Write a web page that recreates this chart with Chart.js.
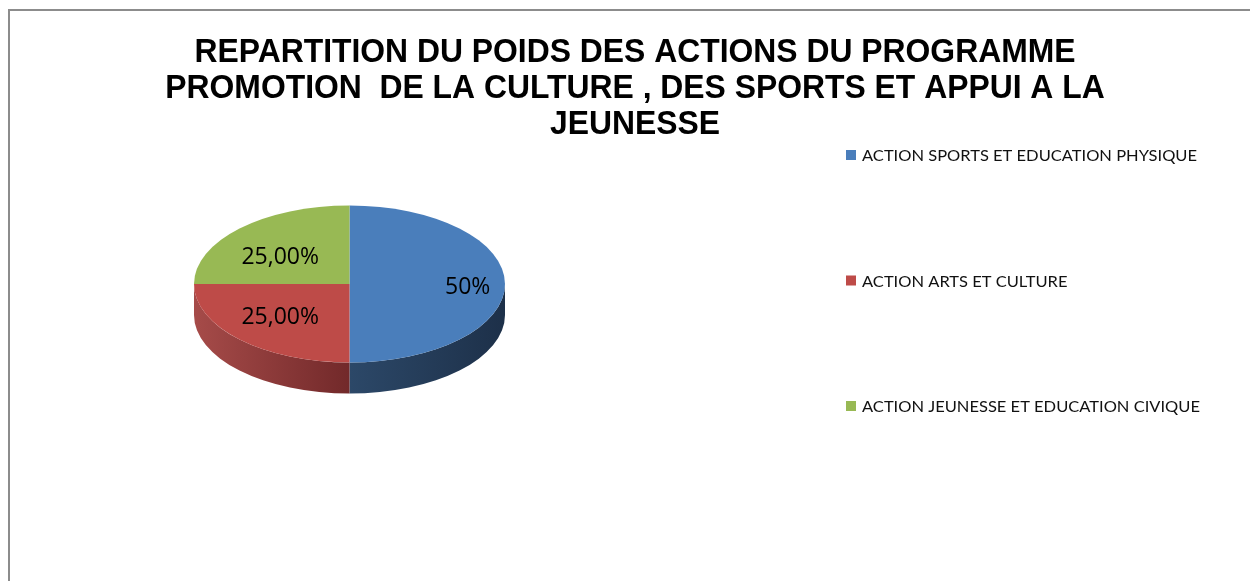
<!DOCTYPE html>
<html>
<head>
<meta charset="utf-8">
<script src="https://cdn.jsdelivr.net/npm/chart.js@4"></script>
<style>
  body { margin: 0; background: #fff; }
  canvas { display: block; }
</style>
</head>
<body>
<canvas id="pie" width="1250" height="581"></canvas>
<script>
const titleLines = [
  "REPARTITION DU POIDS DES ACTIONS DU PROGRAMME",
  "PROMOTION  DE LA CULTURE , DES SPORTS ET APPUI A LA",
  "JEUNESSE"
];
const categories = [
  "ACTION SPORTS ET EDUCATION PHYSIQUE",
  "ACTION ARTS ET CULTURE",
  "ACTION JEUNESSE ET EDUCATION CIVIQUE"
];
const weights = [50, 25, 25];
const valueLabels = ["50%", "25,00%", "25,00%"];

const topColors = ["#4a7ebb", "#be4b48", "#98b954"];
const sideLight = ["#2c4868", "#a64b49", "#7a9444"];
const sideDark = ["#1d3049", "#72292a", "#5a7030"];

// vertical squash of the pie (ellipse height / width) and thickness of the side
const squash = 0.505;
const depth = 31;

// white page with the grey frame of the chart area
const frame = {
  id: "frame",
  beforeDraw(chart) {
    const ctx = chart.ctx;
    ctx.save();
    ctx.fillStyle = "#fff";
    ctx.fillRect(0, 0, chart.width, chart.height);
    ctx.strokeStyle = "#8c8c8c";
    ctx.lineWidth = 2;
    ctx.beginPath();
    ctx.moveTo(9, chart.height);
    ctx.lineTo(9, 10);
    ctx.lineTo(chart.width, 10);
    ctx.stroke();
    ctx.restore();
  }
};

// title lines, squeezed a bit like the original
const titleBlock = {
  id: "titleBlock",
  afterDraw(chart) {
    const ctx = chart.ctx;
    ctx.save();
    ctx.font = "bold 33px 'Liberation Sans', Arial, sans-serif";
    ctx.fillStyle = "#000";
    ctx.textAlign = "center";
    ctx.textBaseline = "alphabetic";
    const sx = 881 / ctx.measureText(titleLines[0]).width;
    titleLines.forEach((line, i) => {
      ctx.save();
      ctx.translate(635, 62 + i * 36);
      ctx.scale(sx, 1);
      ctx.fillText(line, 0, 0);
      ctx.restore();
    });
    ctx.restore();
  }
};

// legend on the right, items spread out
const sideLegend = {
  id: "sideLegend",
  afterDraw(chart) {
    const ctx = chart.ctx;
    ctx.save();
    ctx.font = "16px Lato, 'Open Sans', sans-serif";
    ctx.textBaseline = "middle";
    const sx = 335 / ctx.measureText(categories[0]).width;
    chart.data.labels.forEach((label, i) => {
      const y = 155 + i * 125.5;
      ctx.fillStyle = topColors[i];
      ctx.fillRect(846, y - 5, 10, 10);
      ctx.fillStyle = "#111";
      ctx.save();
      ctx.translate(862, y + 1);
      ctx.scale(sx, 1);
      ctx.fillText(label, 0, 0);
      ctx.restore();
    });
    ctx.restore();
  }
};

// draws the front side of the pie, then squashes the top into an ellipse
const pie3d = {
  id: "pie3d",
  beforeDatasetsDraw(chart) {
    const ctx = chart.ctx;
    const arcs = chart.getDatasetMeta(0).data;
    const cx = arcs[0].x, cy = arcs[0].y, r = arcs[0].outerRadius;
    const ry = r * squash;
    ctx.save();
    arcs.forEach((arc, i) => {
      const a = Math.max(arc.startAngle, 0);
      const b = Math.min(arc.endAngle, Math.PI);
      if (b <= a) return;
      const x0 = cx + Math.cos(a) * r, x1 = cx + Math.cos(b) * r;
      // light on the left, dark on the right
      const g = ctx.createLinearGradient(Math.min(x0, x1), 0, Math.max(x0, x1), 0);
      g.addColorStop(0, sideLight[i]);
      g.addColorStop(1, sideDark[i]);
      ctx.beginPath();
      ctx.ellipse(cx, cy, r, ry, 0, a, b);
      ctx.ellipse(cx, cy + depth, r, ry, 0, b, a, true);
      ctx.closePath();
      ctx.fillStyle = g;
      ctx.fill();
    });
    ctx.restore();

    ctx.save();
    ctx.translate(cx, cy);
    ctx.scale(1, squash);
    ctx.translate(-cx, -cy);
  },
  afterDatasetsDraw(chart) {
    const ctx = chart.ctx;
    ctx.restore();

    const arcs = chart.getDatasetMeta(0).data;
    const total = weights.reduce((s, v) => s + v, 0);
    ctx.save();
    ctx.font = "23px 'Open Sans', sans-serif";
    ctx.fillStyle = "#000";
    ctx.textAlign = "center";
    ctx.textBaseline = "middle";
    arcs.forEach((arc, i) => {
      const mid = (arc.startAngle + arc.endAngle) / 2;
      const fx = weights[i] / total >= 0.5 ? 0.76 : 0.63;
      const x = arc.x + Math.cos(mid) * arc.outerRadius * fx;
      const y = arc.y + 3 + Math.sin(mid) * arc.outerRadius * squash * 0.54;
      ctx.fillText(valueLabels[i], x, y);
    });
    ctx.restore();
  }
};

new Chart(document.getElementById("pie"), {
  type: "pie",
  plugins: [frame, pie3d, titleBlock, sideLegend],
  data: {
    labels: categories,
    datasets: [
      {
        data: weights,
        backgroundColor: topColors,
        borderWidth: 0,
      },
    ],
  },
  options: {
    responsive: false,
    devicePixelRatio: 1,
    animation: false,
    layout: {
      padding: { left: 194, right: 745, top: 128.5, bottom: 141.5 },
    },
    plugins: {
      legend: { display: false },
      title: { display: false },
      tooltip: { enabled: false },
    },
  },
});
</script>
</body>
</html>
